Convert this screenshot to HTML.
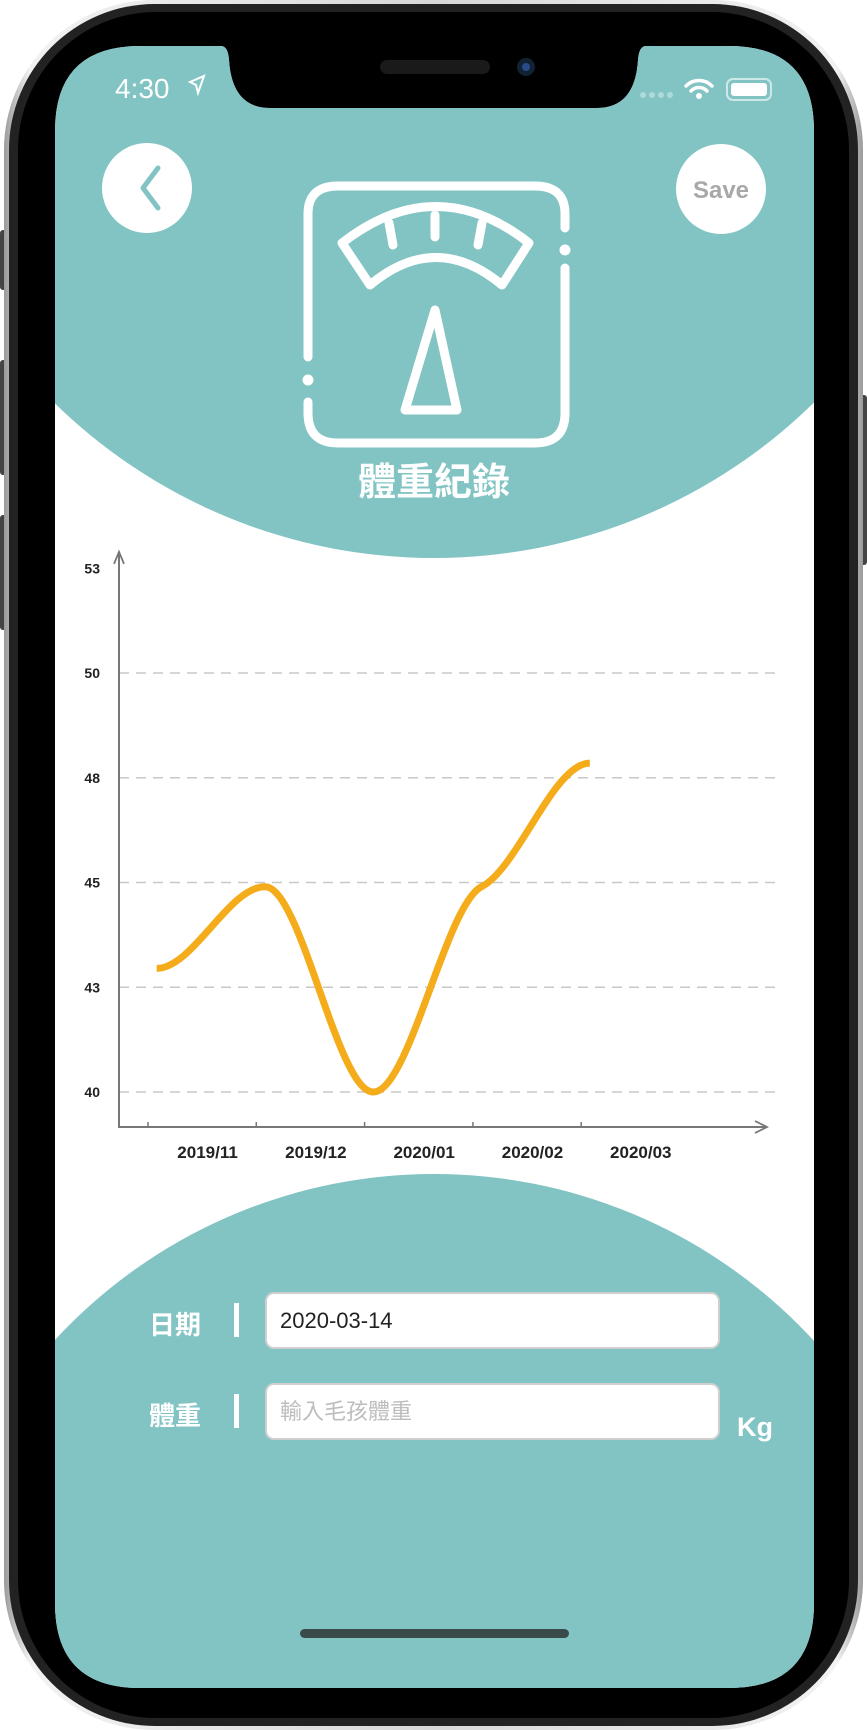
<!DOCTYPE html>
<html><head><meta charset="utf-8"><style>
html,body{margin:0;padding:0;background:#fff;}
body{width:867px;height:1730px;position:relative;overflow:hidden;font-family:"Liberation Sans","Noto Sans CJK TC",sans-serif;}
svg{position:absolute;left:0;top:0;}
.inp{position:absolute;left:265px;width:455px;height:57px;box-sizing:border-box;background:#fff;border:2px solid #cfcfcf;border-radius:9px;font-size:22px;line-height:53px;padding-left:13px;font-family:"Liberation Sans","Noto Sans CJK TC",sans-serif;overflow:hidden;}
.lbl{position:absolute;left:149px;color:#fff;font-size:26px;font-weight:bold;font-family:"Liberation Sans","Noto Sans CJK TC",sans-serif;}
.bar{position:absolute;left:234px;width:5px;height:34px;background:#fff;}
</style></head><body>
<svg width="867" height="1730">
  <defs>
    <clipPath id="scr"><path d="M140,46 H221 Q228,46 229,60 Q232,108 270,108 H597 Q635,108 638,60 Q639,46 646,46 H729 Q814,46 814,131 V1603 Q814,1688 729,1688 H140 Q55,1688 55,1603 V131 Q55,46 140,46 Z"/></clipPath>
    <linearGradient id="sil" x1="0" x2="1"><stop offset="0" stop-color="#9a9a9a"/><stop offset="0.03" stop-color="#f2f2f2"/><stop offset="0.5" stop-color="#d8d8d8"/><stop offset="0.97" stop-color="#f2f2f2"/><stop offset="1" stop-color="#9a9a9a"/></linearGradient>
  </defs>
  <rect x="0" y="230" width="8" height="60" rx="3" fill="#444"/>
  <rect x="0" y="360" width="8" height="115" rx="3" fill="#444"/>
  <rect x="0" y="515" width="8" height="115" rx="3" fill="#444"/>
  <rect x="859" y="395" width="8" height="170" rx="3" fill="#444"/>
  <rect x="4" y="0" width="859" height="1730" rx="150" fill="url(#sil)"/>
  <rect x="9" y="4" width="849" height="1722" rx="146" fill="#222"/>
  <rect x="18" y="12" width="831" height="1706" rx="138" fill="#000"/>
  <g clip-path="url(#scr)">
    <rect x="55" y="46" width="759" height="1642" fill="#fff"/>
    <circle cx="434" cy="16" r="542" fill="#82C3C3"/>
    <circle cx="434" cy="1690" r="516" fill="#82C3C3"/>
    <rect x="55" y="1400" width="759" height="300" fill="#82C3C3"/>
  </g>
  <rect x="380" y="60" width="110" height="14" rx="7" fill="#1a1a1a"/>
  <circle cx="526" cy="67" r="9" fill="#123"/><circle cx="526" cy="67" r="4" fill="#2a4a8a"/>
  <text x="115" y="98" fill="#fff" font-size="28" font-family="Liberation Sans, sans-serif">4:30</text>
  <path d="M190,82 L204,76 L198,93 L196,85 Z" fill="none" stroke="#fff" stroke-width="2"/>
  <g fill="#aedada"><circle cx="643" cy="95" r="3"/><circle cx="652" cy="95" r="3"/><circle cx="661" cy="95" r="3"/><circle cx="670" cy="95" r="3"/></g>
  <g fill="none" stroke="#fff" stroke-width="3.5" stroke-linecap="round">
    <path d="M686,86 A18,18 0 0 1 712,86"/><path d="M691,91 A11,11 0 0 1 707,91"/>
  </g>
  <circle cx="699" cy="96" r="3" fill="#fff"/>
  <rect x="727" y="79" width="44" height="21" rx="6" fill="none" stroke="#cde8e8" stroke-width="2"/>
  <rect x="731" y="83" width="36" height="13" rx="3" fill="#fff"/>
  <g>
    <circle cx="147" cy="188" r="45" fill="#fff"/>
    <path d="M158,168 L143,188 L158,208" fill="none" stroke="#82C3C3" stroke-width="5" stroke-linecap="round" stroke-linejoin="round"/>
  </g>
  <g>
    <circle cx="721" cy="189" r="45" fill="#fff"/>
    <text x="721" y="198" text-anchor="middle" fill="#a8a8a8" font-size="24" font-weight="bold" font-family="Liberation Sans, sans-serif">Save</text>
  </g>
  <g fill="none" stroke="#fff" stroke-width="9" stroke-linecap="round" stroke-linejoin="round">
    <path d="M308,402 V413 Q308,443 338,443 H535 Q565,443 565,413 V268"/>
    <path d="M565,228 V214 Q565,186 535,186 H338 Q308,186 308,214 V357"/>
    <path d="M342,243 Q436,170 529,243 L502,285 Q436,230 370,285 Z"/>
    <path d="M389,223 L393,245 M435,215 L435,237 M482,223 L478,245"/>
    <path d="M435,310 L405,410 H457 Z"/>
  </g>
  <circle cx="308" cy="380" r="5.5" fill="#fff"/>
  <circle cx="565" cy="250" r="5.5" fill="#fff"/>
  <text x="434" y="495" text-anchor="middle" fill="#fff" font-size="38" font-weight="bold" font-family="Liberation Sans, Noto Sans CJK TC, sans-serif">體重紀錄</text>
  <g id="chart"></g>
  <rect x="300" y="1629" width="269" height="9" rx="4.5" fill="#3a4a4a"/>
</svg>
<div class="lbl" style="top:1305px">日期</div>
<div class="bar" style="top:1303px"></div>
<div class="inp" style="top:1292px;color:#222">2020-03-14</div>
<div class="lbl" style="top:1396px">體重</div>
<div class="bar" style="top:1394px"></div>
<div class="inp" style="top:1383px;color:#bdbdbd">輸入毛孩體重</div>
<div style="position:absolute;left:737px;top:1412px;color:#fff;font-size:27px;font-weight:bold">Kg</div>
<script>
const categories = ["2019/11","2019/12","2020/01","2020/02","2020/03"];
const pointMonths = [0.08, 1.08, 2.08, 3.08, 4.08];
const weights = [42.95, 44.9, 40.0, 44.9, 47.85];
const tickValues = [40, 42.5, 45, 47.5, 50, 52.5];
const tickLabels = ["40","43","45","48","50","53"];

const NS = "http://www.w3.org/2000/svg";
const g = document.getElementById("chart");
const x0 = 119, yAxis = 1127;
const xScale = m => 148 + m * 108.3;
const yScale = v => 1092 - (v - 40) * 41.9;
function mk(tag, attrs){const e=document.createElementNS(NS,tag);for(const k in attrs)e.setAttribute(k,attrs[k]);g.appendChild(e);return e;}

tickValues.forEach((v,i)=>{
  const y = yScale(v);
  if (i < tickValues.length-1) {
    const l = mk("line",{x1:x0,x2:776,y1:y,y2:y,stroke:"#c8c8c8","stroke-width":1.5,"stroke-dasharray":"10 7"});
    
    
  }
  const t = mk("text",{x:100,y:y+5,"text-anchor":"end","font-size":14,"font-weight":"bold",fill:"#222","font-family":"Liberation Sans, sans-serif"});
  t.textContent = tickLabels[i];
  
  
});
const ax = mk("path",{d:`M${x0},${yScale(52.7)-8} V${yAxis} H767`,fill:"none",stroke:"#777","stroke-width":2});


const ar = mk("path",{d:`M${x0-5},${yScale(52.7)+4} L${x0},${yScale(52.7)-8} L${x0+5},${yScale(52.7)+4} M755,${yAxis-6} L767,${yAxis} L755,${yAxis+6}`,fill:"none",stroke:"#777","stroke-width":1.8});


categories.forEach((c,i)=>{
  const tk = mk("line",{x1:xScale(i),x2:xScale(i),y1:yAxis-5,y2:yAxis,stroke:"#777","stroke-width":1.5});
  
  
  const t = mk("text",{x:xScale(i+0.55),y:1158,"text-anchor":"middle","font-size":17,"font-weight":"bold",fill:"#222","font-family":"Liberation Sans, sans-serif"});
  t.textContent = c;
  
  
});
const P = weights.map((w,i)=>[xScale(pointMonths[i]), yScale(w)]);
const n = P.length, d=[], m=[];
for(let i=0;i<n-1;i++) d.push((P[i+1][1]-P[i][1])/(P[i+1][0]-P[i][0]));
for(let i=0;i<n;i++){
  if(i===0||i===n-1) m.push(0);
  else if(d[i-1]*d[i]<=0) m.push(0);
  else m.push(2/(1/d[i-1]+1/d[i]) * 0.35);
}
let path = `M${P[0][0]},${P[0][1]}`;
for(let i=0;i<n-1;i++){
  const h=(P[i+1][0]-P[i][0])/3;
  path += ` C${P[i][0]+h},${P[i][1]+m[i]*h} ${P[i+1][0]-h},${P[i+1][1]-m[i+1]*h} ${P[i+1][0]},${P[i+1][1]}`;
}
const line = mk("path",{d:path,fill:"none",stroke:"#F5AC1B","stroke-width":7});


</script>
</body></html>
